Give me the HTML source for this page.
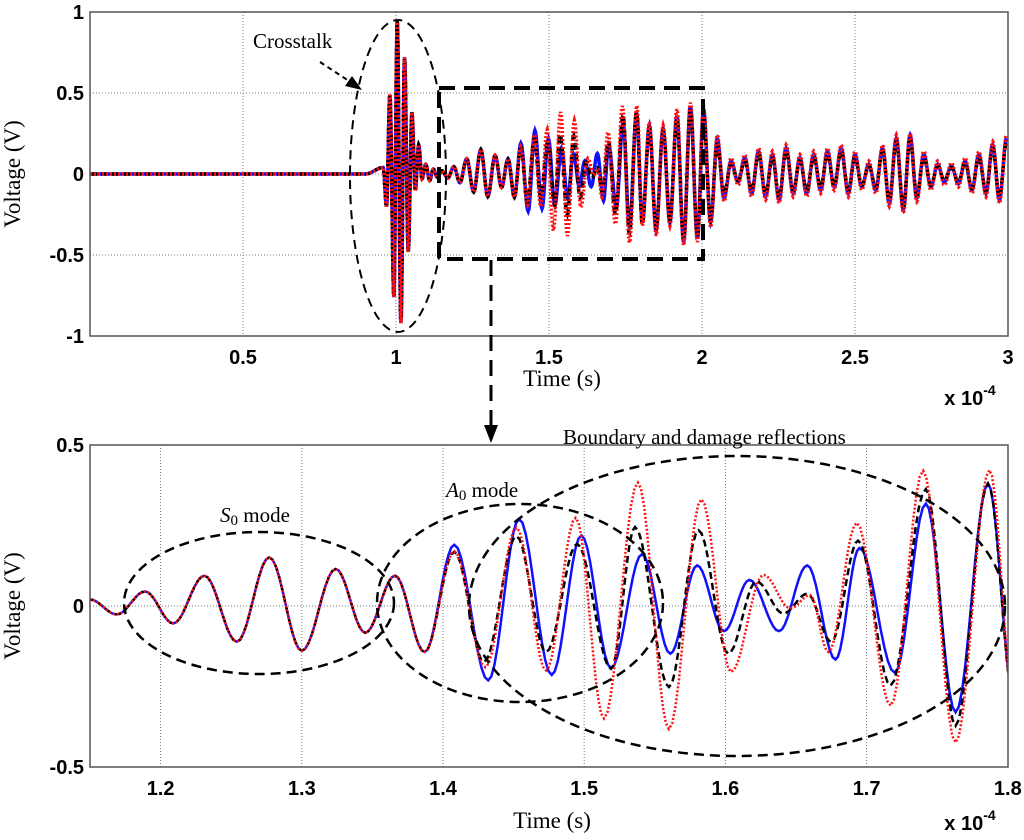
<!DOCTYPE html>
<html><head><meta charset="utf-8"><style>
html,body{margin:0;padding:0;background:#fff;width:1024px;height:840px;overflow:hidden;}
#wrap{position:relative;width:1024px;height:840px;overflow:hidden;}
svg{display:block;position:absolute;left:0;top:0;}
.tk{font-family:"Liberation Sans",sans-serif;font-weight:bold;font-size:20px;fill:#000;}
.sr{font-family:"Liberation Serif",serif;font-size:21px;fill:#000;}
.ax{font-family:"Liberation Serif",serif;font-size:23px;fill:#000;}
</style></head><body>
<div id="wrap">
<svg id="c" width="1024" height="840" viewBox="0 0 1024 840" xmlns="http://www.w3.org/2000/svg">
<defs>
<clipPath id="clipTop"><rect x="90" y="12" width="918" height="324"/></clipPath>
<clipPath id="clipBot"><rect x="90" y="445" width="918" height="322"/></clipPath>
</defs>
<g id="top"></g>
<g id="bot"></g>
</svg>
<svg width="1024" height="840" viewBox="0 0 1024 840" xmlns="http://www.w3.org/2000/svg">
<text x="20" y="174" class="ax" text-anchor="middle" transform="rotate(-90 20 174)">Voltage (V)</text>
<text x="20" y="606" class="ax" text-anchor="middle" transform="rotate(-90 20 606)">Voltage (V)</text>
<text x="562" y="386" class="ax" text-anchor="middle">Time (s)</text>
<text x="552" y="828" class="ax" text-anchor="middle">Time (s)</text>
<text x="970" y="405" class="tk" font-size="18" text-anchor="middle">x 10<tspan dy="-10" font-size="14">-4</tspan></text>
<text x="970" y="830" class="tk" font-size="18" text-anchor="middle">x 10<tspan dy="-10" font-size="14">-4</tspan></text>
<text x="253" y="48" class="sr">Crosstalk</text>
<line x1="320" y1="62" x2="352" y2="83" stroke="#000" stroke-width="2" stroke-dasharray="5,4"/>
<polygon points="362,90 345,86 352,76" fill="#000"/>
<ellipse cx="398" cy="176" rx="48" ry="156" fill="none" stroke="#000" stroke-width="2" stroke-dasharray="9,6"/>
<rect x="439" y="88" width="264" height="171" fill="none" stroke="#000" stroke-width="4" stroke-dasharray="16,9"/>
<line x1="491" y1="260" x2="491" y2="425" stroke="#000" stroke-width="3" stroke-dasharray="16,9"/>
<polygon points="484,425 498,425 491,443" fill="#000"/>
<text x="563" y="444" class="sr">Boundary and damage reflections</text>
<text x="220" y="522" class="sr"><tspan font-style="italic">S</tspan><tspan font-size="15" dy="3">0</tspan><tspan dy="-3"> mode</tspan></text>
<text x="446" y="497" class="sr"><tspan font-style="italic">A</tspan><tspan font-size="15" dy="3">0</tspan><tspan dy="-3"> mode</tspan></text>
<ellipse cx="259" cy="603" rx="135" ry="71" fill="none" stroke="#000" stroke-width="2.5" stroke-dasharray="10,6"/>
<ellipse cx="520" cy="603" rx="143" ry="99" fill="none" stroke="#000" stroke-width="2.5" stroke-dasharray="10,6"/>
<ellipse cx="737" cy="606" rx="268" ry="150" fill="none" stroke="#000" stroke-width="2.5" stroke-dasharray="10,6"/>
</svg>
</div>
<script>
// ---------- data ----------
const tCommon = [0, 0.9, 0.958, 0.969, 0.98, 0.993, 1.004, 1.016, 1.028, 1.04, 1.052, 1.063, 1.074, 1.085, 1.097, 1.11, 1.122, 1.135, 1.15, 1.169, 1.189, 1.209, 1.231, 1.254, 1.277, 1.300, 1.324, 1.345, 1.366, 1.387];
const vCommon = [0, 0, 0.04, -0.2, 0.49, -0.76, 0.95, -0.92, 0.72, -0.48, 0.38, -0.1, 0.18, -0.03, 0.06, -0.04, 0.03, -0.02, 0.02, -0.026, 0.045, -0.054, 0.094, -0.111, 0.151, -0.139, 0.115, -0.083, 0.094, -0.143];
const tBlue = [1.408,1.432,1.454,1.477,1.498,1.519,1.541,1.561,1.580,1.599,1.617,1.638,1.658,1.678,1.695,1.720,1.742,1.763,1.786,1.805];
const vBlue = [0.19,-0.231,0.27,-0.214,0.219,-0.193,0.161,-0.148,0.126,-0.078,0.081,-0.078,0.126,-0.166,0.18,-0.207,0.318,-0.33,0.38,-0.30];
const tBlack = [1.408,1.429,1.452,1.473,1.495,1.519,1.536,1.560,1.581,1.602,1.622,1.641,1.658,1.675,1.694,1.717,1.742,1.763,1.786,1.805];
const vBlack = [0.168,-0.174,0.217,-0.143,0.193,-0.195,0.245,-0.252,0.235,-0.148,0.076,-0.023,0.038,-0.111,0.203,-0.247,0.363,-0.372,0.38,-0.31];
const tRed = [1.408,1.430,1.452,1.473,1.494,1.514,1.538,1.560,1.583,1.604,1.627,1.646,1.660,1.673,1.693,1.717,1.740,1.763,1.787,1.805];
const vRed = [0.17,-0.19,0.243,-0.2,0.274,-0.349,0.383,-0.382,0.331,-0.205,0.097,-0.007,0.034,-0.143,0.258,-0.309,0.42,-0.424,0.422,-0.32];
const tTail = [1.828,1.850,1.873,1.895,1.918,1.940,1.962,1.985,2.005,2.028,2.050,2.072,2.095,2.118,2.140,2.162,2.185,2.208,2.230,2.252,2.275,2.298,2.320,2.342,2.365,2.388,2.410,2.432,2.455,2.478,2.500,2.522,2.545,2.568,2.590,2.612,2.635,2.658,2.680,2.702,2.725,2.748,2.770,2.792,2.815,2.838,2.860,2.882,2.905,2.928,2.950,2.972,2.995];
const vBlueTail = [0.30,-0.35,0.28,-0.30,0.36,-0.42,0.42,-0.40,0.40,-0.30,0.22,-0.15,0.08,-0.05,0.10,-0.12,0.14,-0.14,0.12,-0.16,0.16,-0.12,0.10,-0.12,0.12,-0.10,0.14,-0.08,0.16,-0.12,0.12,-0.08,0.06,-0.10,0.16,-0.18,0.22,-0.22,0.24,-0.15,0.12,-0.08,0.06,-0.05,0.05,-0.06,0.08,-0.10,0.12,-0.12,0.18,-0.16,0.22];
const vBlackTail = [0.28,-0.33,0.27,-0.28,0.34,-0.40,0.40,-0.38,0.36,-0.28,0.18,-0.12,0.06,-0.04,0.08,-0.10,0.12,-0.12,0.10,-0.14,0.14,-0.10,0.08,-0.10,0.10,-0.08,0.12,-0.07,0.14,-0.10,0.10,-0.07,0.05,-0.08,0.14,-0.16,0.20,-0.20,0.21,-0.13,0.10,-0.07,0.05,-0.04,0.04,-0.05,0.07,-0.09,0.10,-0.11,0.16,-0.14,0.20];
const vRedTail = [0.32,-0.38,0.30,-0.32,0.40,-0.44,0.44,-0.42,0.42,-0.33,0.24,-0.17,0.10,-0.07,0.12,-0.14,0.16,-0.16,0.14,-0.18,0.18,-0.14,0.12,-0.14,0.14,-0.12,0.16,-0.10,0.18,-0.14,0.14,-0.10,0.08,-0.12,0.18,-0.20,0.24,-0.24,0.25,-0.17,0.14,-0.10,0.08,-0.07,0.07,-0.08,0.10,-0.12,0.14,-0.14,0.20,-0.18,0.24];
const topXTicks = [0.5, 1, 1.5, 2, 2.5, 3];
const topYTicks = [1, 0.5, 0, -0.5, -1];
const botXTicks = [1.2, 1.3, 1.4, 1.5, 1.6, 1.7, 1.8];
const botYTicks = [0.5, 0, -0.5];

// ---------- axes ----------
const topX = t => 90 + t * 306;
const topY = v => 174 - v * 162;
const botX = t => 90 + (t - 1.15) * 1412;
const botY = v => 606 - v * 322;

const NS = 'http://www.w3.org/2000/svg';
function mk(tag, attrs, parent){
  const e = document.createElementNS(NS, tag);
  for (const k in attrs) e.setAttribute(k, attrs[k]);
  parent.appendChild(e);
  return e;
}
function series(t1, v1, t2, v2, t3, v3){
  return {t: t1.concat(t2, t3), v: v1.concat(v2, v3)};
}
const sBlue = series(tCommon, vCommon, tBlue, vBlue, tTail, vBlueTail);
const sBlack = series(tCommon, vCommon, tBlack, vBlack, tTail, vBlackTail);
const sRed = series(tCommon, vCommon, tRed, vRed, tTail, vRedTail);

function pathFor(s, fx, fy){
  let d = 'M' + fx(s.t[0]).toFixed(1) + ',' + fy(s.v[0]).toFixed(1);
  for (let i = 0; i < s.t.length - 1; i++){
    const t0 = s.t[i], t1 = s.t[i+1], v0 = s.v[i], v1 = s.v[i+1];
    const n = 10;
    for (let k = 1; k <= n; k++){
      const u = k / n;
      const w = (1 - Math.cos(Math.PI * u)) / 2;
      d += 'L' + fx(t0 + (t1 - t0) * u).toFixed(1) + ',' + fy(v0 + (v1 - v0) * w).toFixed(1);
    }
  }
  return d;
}

function panel(g, fx, fy, xt, yt, x0, y0, x1, y1, clip, lw){
  const bg = mk('rect', {x:x0, y:y0, width:x1-x0, height:y1-y0, fill:'#fff', stroke:'none'}, g);
  
  
  xt.forEach(t => {
    const x = fx(t);
    if (x < x1 - 2) {
      const l = mk('line', {x1:x, x2:x, y1:y0, y2:y1, stroke:'#777', 'stroke-width':1, 'stroke-dasharray':'1,2'}, g);
      
      
    }
    const tx = mk('text', {x:x, y:y1+28, 'text-anchor':'middle', class:'tk'}, g);
    tx.textContent = String(t);
    
    
  });
  yt.forEach(v => {
    const y = fy(v);
    if (y > y0 + 2 && y < y1 - 2) {
      const l = mk('line', {x1:x0, x2:x1, y1:y, y2:y, stroke:'#777', 'stroke-width':1, 'stroke-dasharray':'1,2'}, g);
      
      
    }
    const tx = mk('text', {x:x0-6, y:y+7, 'text-anchor':'end', class:'tk'}, g);
    tx.textContent = String(v);
    
    
  });
  const lines = mk('g', {'clip-path':'url(#' + clip + ')'}, g);
  
  
  const pb = mk('path', {d:pathFor(sBlue, fx, fy), fill:'none', stroke:'#1010ff', 'stroke-width':lw}, lines);
  
  
  const pk = mk('path', {d:pathFor(sBlack, fx, fy), fill:'none', stroke:'#000', 'stroke-width':lw, 'stroke-dasharray':'7,4'}, lines);
  
  
  const pr = mk('path', {d:pathFor(sRed, fx, fy), fill:'none', stroke:'#ff1010', 'stroke-width':lw, 'stroke-dasharray':'2,2'}, lines);
  
  
  const fr = mk('rect', {x:x0, y:y0, width:x1-x0, height:y1-y0, fill:'none', stroke:'#555', 'stroke-width':1.5}, g);
  
  
}

const gTop = document.getElementById('top');
const gBot = document.getElementById('bot');
panel(gTop, topX, topY, topXTicks, topYTicks, 90, 12, 1008, 336, 'clipTop', 3.5);
panel(gBot, botX, botY, botXTicks, botYTicks, 90, 445, 1008, 767, 'clipBot', 2.5);
</script>
</body></html>
